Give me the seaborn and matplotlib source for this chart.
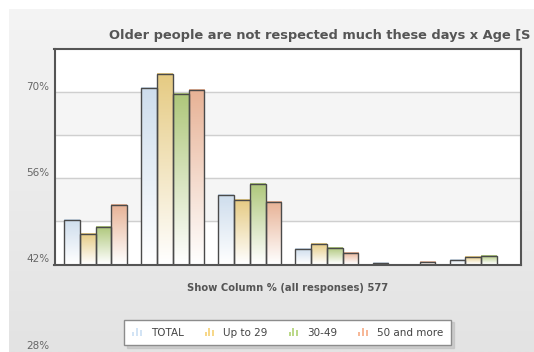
import numpy as np
import pandas as pd
import matplotlib
matplotlib.use("Agg")
import matplotlib.pyplot as plt
import matplotlib.transforms as mtransforms
from matplotlib.colors import to_rgb
from matplotlib.legend_handler import HandlerBase
from matplotlib.patches import Rectangle
import seaborn as sns

# ---- data -------------------------------------------------------------
options = ["Option 1", "Option 2", "Option 3", "Option 4", "Option 5", "Option 6"]
age_groups = ["TOTAL", "Up to 29", "30-49", "50 and more"]
total = [49.2, 70.6, 53.3, 44.5, 42.25, 42.8]
up_to_29 = [47.0, 72.8, 52.4, 45.3, 41.0, 43.2]
age_30_49 = [48.0, 69.6, 55.0, 44.6, 41.0, 43.3]
age_50_plus = [51.6, 70.3, 52.2, 43.9, 42.45, 41.0]
y_tick_values = [28, 42, 56, 70]
grid_values = [49, 56, 63, 70]
title_text = "Older people are not respected much these days x Age [S"
xlabel_text = "Show Column % (all responses) 577"

palette = ["#c9ddf2", "#f6d272", "#b3d46e", "#f5ae88"]
icon_colors = ["#d3e4f5", "#f7d88a", "#bcd98a", "#f7b898"]

df = pd.DataFrame({
    "option": options * 4,
    "age": np.repeat(age_groups, len(options)),
    "pct": total + up_to_29 + age_30_49 + age_50_plus,
})

# ---- figure -----------------------------------------------------------
W, H = 534, 352
fig = plt.figure(figsize=(W / 100, H / 100), dpi=100)
fig.patch.set_facecolor("white")

# soft grey panel behind the chart
bg = fig.add_axes([9 / W, 0, 1 - 9 / W, 1 - 9 / H], zorder=-10)
g = np.linspace(0, 1, 256)[:, None, None]
c_top, c_bot = np.array(to_rgb("#f4f4f4")), np.array(to_rgb("#e3e3e3"))
bg.imshow(c_top * (1 - g) + c_bot * g, aspect="auto", extent=[0, 1, 0, 1], origin="upper")
bg.axis("off")

ax_left, ax_right, ax_top, ax_bottom = 54.5, 521, 48.5, 264.5
ax = fig.add_axes([ax_left / W, 1 - ax_bottom / H,
                   (ax_right - ax_left) / W, (ax_bottom - ax_top) / H])
ax.set_facecolor("white")

y_min, y_max = 42, 77
sns.barplot(data=df, x="option", y="pct", hue="age", hue_order=age_groups,
            palette=palette, width=0.815, edgecolor="#4a4a4a", linewidth=1.0,
            legend=False, ax=ax, zorder=3)
ax.set_xlim(-0.536, 5.52)
ax.set_ylim(y_min, y_max)

# vertical gradient fill: full colour at the top fading to white at the base
for bars in ax.containers:
    for patch in bars:
        top = patch.get_y() + patch.get_height()
        if top <= y_min:
            continue
        rgb = np.array(to_rgb(patch.get_facecolor()))
        t = np.linspace(0, 1, 64)[:, None, None]
        img = np.array([1.0, 1.0, 1.0]) * (1 - t) + rgb * t
        ax.imshow(img, origin="lower", aspect="auto", zorder=2.9,
                  extent=[patch.get_x(), patch.get_x() + patch.get_width(), y_min, top])
        patch.set_facecolor("none")
ax.set_xlim(-0.536, 5.52)
ax.set_ylim(y_min, y_max)

# alternating bands and grid lines
for lo in (49, 63):
    ax.axhspan(lo, lo + 7, color="#f5f5f5", zorder=0)
for v in grid_values:
    ax.axhline(v, color="#cfcfcf", lw=1.0, zorder=1)

ax.set_xlabel("")
ax.set_ylabel("")
ax.set_xticks([])
ax.set_yticks([])
for s in ax.spines.values():
    s.set_color("#555555")
    s.set_linewidth(1.5)
    s.set_zorder(5)

# y labels (including the one that falls below the plot area)
lab_tr = mtransforms.blended_transform_factory(ax.transAxes, ax.transData)
lab_tr = mtransforms.offset_copy(lab_tr, fig=fig, x=-5, y=2, units="dots")
for v in y_tick_values:
    ax.text(0, v, f"{v}%", transform=lab_tr, ha="right", va="baseline",
            fontsize=7.5, color="#666666", clip_on=False)

fig.text(109 / W, 1 - 35 / H, title_text, ha="left", va="center",
         fontsize=9.4, fontweight="bold", color="#555555")
cx = (ax_left + ax_right) / 2 / W
fig.text(cx, 1 - 288 / H, xlabel_text, ha="center", va="center",
         fontsize=7.2, fontweight="bold", color="#555555")


class BarIconHandler(HandlerBase):
    def create_artists(self, legend, orig_handle, xdescent, ydescent,
                       width, height, fontsize, trans):
        color = orig_handle.get_facecolor()
        bw = width / 5.0
        arts = []
        for i, frac in enumerate([0.5, 1.0, 0.7]):
            arts.append(Rectangle((-xdescent + i * bw * 1.8, -ydescent),
                                  bw, height * frac, facecolor=color,
                                  edgecolor="none", transform=trans))
        return arts


handles = [Rectangle((0, 0), 1, 1, facecolor=c) for c in icon_colors]
leg = fig.legend(handles, age_groups, handler_map={Rectangle: BarIconHandler()},
                 loc="center", bbox_to_anchor=(cx, 1 - 332.5 / H), ncol=4,
                 frameon=True, fancybox=False, fontsize=7.5, handlelength=1.0,
                 handleheight=0.9, handletextpad=0.8, columnspacing=2.0,
                 borderpad=0.75, edgecolor="#8c8c8c", framealpha=1,
                 shadow={"color": "#bdbdbd", "alpha": 0.6})
leg.get_frame().set_linewidth(1.0)
for t in leg.get_texts():
    t.set_color("#444444")

fig.savefig("out.png", dpi=100)
